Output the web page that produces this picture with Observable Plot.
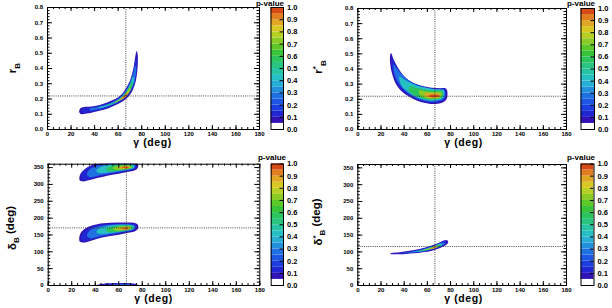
<!DOCTYPE html>
<html>
<head>
<meta charset="utf-8">
<script src="https://cdn.jsdelivr.net/npm/d3@7"></script>
<script src="https://cdn.jsdelivr.net/npm/@observablehq/plot@0.6"></script>
<style>
  body { margin: 0; background: #fff; }
  #fig { position: relative; width: 612px; height: 308px; overflow: hidden; background: #fff;
         font-family: "Liberation Sans", Arial, sans-serif; }
  .panel { position: absolute; width: 306px; height: 154px; }
  .panel svg { position: absolute; left: 0; top: 0; }
</style>
</head>
<body>
<div id="fig"></div>
<script>
// ---- p-value colour bands -------------------------------------------------
const pBands = [0, 0.05, 0.1, 0.15, 0.2, 0.25, 0.3, 0.35, 0.4, 0.45, 0.5,
                0.55, 0.6, 0.65, 0.7, 0.75, 0.8, 0.85, 0.9, 0.95];
const pTicks = [0, 0.1, 0.2, 0.3, 0.4, 0.5, 0.6, 0.7, 0.8, 0.9, 1.0];
const palette = ["#ffffff", "#3312b5", "#2226d0", "#1c3ee0", "#1d56e2", "#1f70e0",
                 "#2290dc", "#25aed6", "#26c0c4", "#27c4a4", "#28c480", "#2ac35c",
                 "#38c43a", "#5cc82a", "#8acc26", "#b8d024", "#d8c824", "#e0a624",
                 "#e07e20", "#d84a18"];

// ---- axes ------------------------------------------------------------------
const gammaTicks = [0, 20, 40, 60, 80, 100, 120, 140, 160, 180];
const rTicks = [0, 0.1, 0.2, 0.3, 0.4, 0.5, 0.6, 0.7, 0.8];
const deltaTicks = [0, 50, 100, 150, 200, 250, 300, 350];

// ---- best-fit point ----------------------------------------------------------
const gammaBest = 66.5;
const rBBest = 0.22;
const rBStarBest = 0.22;
const deltaBBest = 171;
const deltaBStarBest = 116;

// ---- p-value contours: [gamma (deg), parameter] --------------------------------
const rBContours = [
  {p: 0.05, pts: [[27.5,0.135],[30,0.146],[35,0.149],[40,0.154],[45,0.163],[50,0.176],[55,0.191],[60,0.211],[64,0.24],[67,0.275],[70,0.32],[72,0.37],[73.6,0.43],[74.8,0.49],[75.7,0.515],[76.6,0.49],[76.6,0.42],[75.7,0.35],[74,0.29],[71.5,0.245],[68,0.21],[64,0.185],[58,0.16],[52,0.14],[45,0.125],[38,0.112],[32,0.103],[29,0.1],[27,0.112]]},
  {p: 0.12, pts: [[29,0.132],[31,0.141],[36,0.144],[41,0.15],[46,0.159],[51,0.172],[56,0.188],[60.5,0.208],[64.3,0.236],[67.3,0.272],[70.3,0.318],[72.4,0.37],[74,0.43],[75.2,0.475],[75.9,0.46],[75.9,0.41],[75,0.35],[73.4,0.293],[71,0.25],[67.7,0.216],[63.7,0.19],[58,0.165],[52,0.145],[45,0.13],[38,0.117],[32,0.108],[29.5,0.108],[28.5,0.118]]},
  {p: 0.25, pts: [[36,0.138],[41,0.146],[46,0.154],[52,0.169],[58,0.192],[63,0.222],[67,0.262],[70,0.308],[72.5,0.365],[74.6,0.42],[75.3,0.4],[74.7,0.345],[72.9,0.293],[70.2,0.253],[66.5,0.22],[61.5,0.189],[55,0.162],[47,0.141],[39,0.127],[35.5,0.13]]},
  {p: 0.4, pts: [[44,0.147],[49,0.157],[54,0.17],[59,0.19],[63.5,0.218],[67.2,0.255],[70.2,0.298],[72.6,0.345],[73.6,0.33],[72.2,0.288],[69.6,0.251],[66.2,0.22],[61.5,0.192],[55.5,0.167],[48.5,0.148],[44,0.141]]},
  {p: 0.55, pts: [[51,0.16],[55.5,0.172],[60,0.19],[64,0.215],[67.3,0.249],[70.2,0.29],[71.9,0.312],[72.4,0.3],[70.7,0.266],[68.2,0.234],[64.5,0.206],[59.5,0.184],[54,0.165],[50.5,0.156]]},
  {p: 0.7, pts: [[57,0.178],[61,0.196],[64.5,0.219],[67.5,0.247],[70,0.276],[70.8,0.268],[68.5,0.234],[65,0.208],[60.5,0.187],[57,0.174]]},
  {p: 0.85, pts: [[61.5,0.196],[64.5,0.214],[67.3,0.24],[68.8,0.246],[68.4,0.234],[66,0.211],[63,0.196],[61.5,0.193]]},
  {p: 0.95, pts: [[64,0.211],[65.8,0.224],[67.2,0.234],[67.3,0.226],[65.8,0.214],[64.3,0.207]]}
];

const rBStarContours = [
  {p: 0.05, pts: [[28.7,0.505],[30.8,0.464],[34.6,0.409],[38.9,0.36],[44.6,0.321],[53.3,0.292],[61.9,0.277],[70,0.273],[75.5,0.273],[77,0.26],[77,0.21],[75.5,0.19],[72,0.175],[65,0.168],[56,0.178],[47.5,0.204],[39,0.244],[33,0.3],[29.7,0.365],[28,0.43],[27.8,0.485]]},
  {p: 0.12, pts: [[29.5,0.48],[32,0.44],[35.5,0.395],[40,0.35],[46,0.315],[54,0.289],[62,0.274],[70,0.27],[75,0.268],[76,0.255],[76,0.215],[74.5,0.195],[71,0.182],[65,0.175],[56,0.185],[48,0.21],[40,0.248],[34,0.3],[30.5,0.37],[29,0.43]]},
  {p: 0.25, pts: [[31,0.43],[34,0.4],[39,0.355],[46,0.312],[54,0.285],[62,0.271],[70,0.266],[74.5,0.263],[75.3,0.25],[75.2,0.22],[73.5,0.2],[70,0.19],[64,0.183],[56,0.193],[48,0.218],[41,0.255],[35,0.31],[31.5,0.37]]},
  {p: 0.4, pts: [[36,0.35],[41,0.325],[48,0.3],[55,0.283],[63,0.27],[70,0.264],[74,0.26],[74.5,0.235],[73,0.205],[69,0.195],[63,0.19],[56,0.2],[48,0.225],[41,0.262],[37,0.3]]},
  {p: 0.55, pts: [[45,0.285],[52,0.272],[59,0.262],[66,0.258],[72,0.256],[73.5,0.24],[72.5,0.21],[68,0.2],[61,0.198],[54,0.21],[47,0.235],[44,0.26]]},
  {p: 0.7, pts: [[53,0.258],[60,0.25],[67,0.248],[72,0.245],[72.5,0.225],[70,0.207],[64,0.203],[57,0.212],[53,0.235]]},
  {p: 0.85, pts: [[58,0.24],[64,0.238],[70,0.236],[71,0.22],[68,0.21],[62,0.208],[58,0.222]]},
  {p: 0.95, pts: [[62,0.228],[66,0.229],[70,0.227],[70.5,0.218],[66,0.213],[62,0.216]]}
];

const deltaBContours = [
  // solution near delta_B + 180
  {p: 0.05, pts: [[26.5,319],[27.5,332],[30.3,343],[34.6,353],[40,361],[50,367],[65,368],[73,366],[76.2,361],[76.5,352],[74.3,343],[67.2,337],[58.7,331],[50.2,326],[41.7,319],[34.6,312],[29.8,309],[26.9,311.5]]},
  {p: 0.12, pts: [[28,322],[29,335],[31.5,345],[35.5,353],[42,360],[53,364],[64,365],[72,363],[75,358],[75,350],[73,344],[66.5,339],[58.5,334],[50,329],[42,322.5],[35,315],[30.5,312.5],[28.3,315]]},
  {p: 0.25, pts: [[33,329],[35,343],[40,353],[47,359],[55,362],[64,363],[71.5,361.5],[74,357],[73.8,350],[71.5,345.5],[65.5,341],[58,336],[50,331.5],[42,326],[36,321]]},
  {p: 0.4, pts: [[41,341],[44,351],[50,357],[58,360.5],[65,361],[71,359.5],[73,355],[72.5,349],[69,345],[62,341],[54,337],[46,334],[42,335]]},
  {p: 0.55, pts: [[49,347],[53,354],[59,358],[66,359],[71,357],[72,352],[70,347],[64,343],[57,340],[51,340]]},
  {p: 0.7, pts: [[55,349],[59,354.5],[65,356.5],[70,355],[71,351],[68,347],[62,344],[57,344]]},
  {p: 0.85, pts: [[59,350],[63,353.5],[68,353.8],[70,351],[67,347.5],[62,346.5]]},
  {p: 0.95, pts: [[62.5,350.5],[65.5,352.5],[68.5,352],[67.5,349],[64,348.5]]},
  // wrapped part of the same solution just above 0
  {p: 0.05, pts: [[40,-6],[41,1],[45,4.5],[52,6.5],[62,7.5],[70,7],[74,5],[76.5,1],[77,-6]]},
  {p: 0.12, pts: [[45,-6],[47,3],[55,5],[65,5.5],[72,4],[75,0],[75,-6]]},
  {p: 0.25, pts: [[52,-6],[55,2.5],[63,3.5],[70,2.5],[73,-6]]},
  // central solution
  {p: 0.05, pts: [[26.4,140.6],[27.5,155],[30.3,166],[34.6,175],[41.7,182],[53,186],[64.3,187],[72.8,186],[76.2,180],[76.5,170],[74.3,162],[67.2,156],[58.7,150],[50.2,145.5],[41.7,138.6],[34.6,130.8],[29.8,127.8],[26.9,130.8]]},
  {p: 0.12, pts: [[28,142],[29,155],[31.5,164],[35.5,172],[42,179],[53,183],[64,184],[72,183],[75,178],[75,170],[73,164],[66.5,158.5],[58.5,153],[50,148],[42,141.5],[35,134],[30.5,131.5],[28.3,134]]},
  {p: 0.25, pts: [[33,148],[35,162],[40,172],[47,178],[55,181],[64,182],[71.5,180.5],[74,176],[73.8,169],[71.5,164.5],[65.5,160],[58,155],[50,150.5],[42,145],[36,140]]},
  {p: 0.4, pts: [[41,160],[44,170],[50,176],[58,179.5],[65,180],[71,178.5],[73,174],[72.5,168],[69,164],[62,160],[54,156],[46,153],[42,154]]},
  {p: 0.55, pts: [[49,166],[53,173],[59,177],[66,178],[71,176],[72,171],[70,166],[64,162],[57,159],[51,159]]},
  {p: 0.7, pts: [[55,168],[59,173.5],[65,175.5],[70,174],[71,170],[68,166],[62,163],[57,163]]},
  {p: 0.85, pts: [[59,169],[63,172.5],[68,172.8],[70,170],[67,166.5],[62,165.5]]},
  {p: 0.95, pts: [[62.5,169.5],[65.5,171.5],[68.5,171],[67.5,168],[64,167.5]]}
];

const deltaBStarContours = [
  {p: 0.05, pts: [[28.5,96],[36,99],[47.5,105],[59,114],[69.1,126],[74,134],[76.9,135],[78,129],[76.3,121],[72,113],[64.8,104],[54.7,98],[41.8,94],[30.2,93],[28.2,94]]},
  {p: 0.12, pts: [[31,95.5],[40,98],[48,103],[59,112],[68,123],[73.5,131],[76,132],[76.8,127],[75.5,122],[71.5,115],[64.5,106],[54.5,99.5],[42,95.8],[33,94.5]]},
  {p: 0.25, pts: [[38,97],[48,101.5],[59,110.5],[67,120],[72,127],[74.5,128],[75,124],[71,116],[64,107.5],[54.5,100.5],[45,97.5],[40,96.3]]},
  {p: 0.4, pts: [[46,99.5],[54,104],[61,111.5],[67,119],[71.5,124.5],[73,122],[70,116],[63,108.5],[55,102],[48,99.5]]},
  {p: 0.55, pts: [[52,102.5],[59,108],[65,115],[70,121.5],[71.5,120],[68,114],[62,108],[55,103]]},
  {p: 0.7, pts: [[57,105.5],[62,110.5],[67,117],[69.5,118.5],[69,115],[64,109],[59,105.5]]},
  {p: 0.85, pts: [[61,108.5],[65,113],[68.5,117],[68,113],[63.5,108.5]]},
  {p: 0.95, pts: [[64.5,112],[66.5,115],[67.5,115],[66,112]]}
];

// ---- panel layout ------------------------------------------------------------
const colorScale = {type: "threshold", domain: pBands.slice(1), range: palette};
const fontFamily = "'Liberation Sans', Arial, sans-serif";

const panels = [
  {left: 0, top: 0, frame: [47, 259, 7, 129], cb: [270.5, 283, 7, 129],
   yDomain: [0, 0.8], yTicks: rTicks, yMinor: 0.02, yFormat: ".1f",
   contours: rBContours, refY: rBBest,
   yTitle: {x: 16, y: 68, parts: [["r", 0], ["B", 0.45, true]]},
   xTitleX: 152.5, xTitleY: 145.5, pLabelX: 270},
  {left: 306, top: 0, frame: [51.3, 260, 8, 129], cb: [274.5, 288, 8, 129],
   yDomain: [0, 0.8], yTicks: rTicks, yMinor: 0.02, yFormat: ".1f",
   contours: rBStarContours, refY: rBStarBest,
   yTitle: {x: 16, y: 67, parts: [["r", 0], ["*", -0.45, true], ["B", 0.9, true]]},
   xTitleX: 157.5, xTitleY: 145.5, pLabelX: 275},
  {left: 0, top: 154, frame: [47.7, 259.3, 9.7, 131], cb: [270.7, 283, 9.5, 131],
   yDomain: [0, 360], yTicks: deltaTicks, yMinor: 10, yFormat: "d",
   contours: deltaBContours, refY: deltaBBest,
   yTitle: {x: 15.5, y: 74, parts: [["δ", 0], ["B", 0.45, true], [" (deg)", -0.45]]},
   xTitleX: 153.5, xTitleY: 148, pLabelX: 272},
  {left: 306, top: 154, frame: [51.3, 260, 10, 131], cb: [274.5, 287.5, 9.5, 131],
   yDomain: [0, 360], yTicks: deltaTicks, yMinor: 10, yFormat: "d",
   contours: deltaBStarContours, refY: deltaBStarBest,
   yTitle: {x: 15.5, y: 68, parts: [["δ", 0], ["*", -0.45, true], ["B", 0.9, true], [" (deg)", -0.45]]},
   xTitleX: 157.5, xTitleY: 148, pLabelX: 275}
];

const fig = document.getElementById("fig");

for (const cfg of panels) {
  const div = document.createElement("div");
  div.className = "panel";
  div.style.left = cfg.left + "px";
  div.style.top = cfg.top + "px";
  fig.appendChild(div);

  const [fl, fr, ft, fb] = cfg.frame;
  const W = 306, H = 154;
  const innerW = fr - fl, innerH = fb - ft;
  const gammaMinor = d3.range(0, 180.1, 5);
  const yMinor = d3.range(cfg.yDomain[0], cfg.yDomain[1] + cfg.yMinor / 2, cfg.yMinor);

  const contourMarks = cfg.contours.map(c =>
    Plot.line(c.pts, {
      x: d => d[0], y: d => d[1], fill: () => c.p, stroke: "none",
      curve: "catmull-rom-closed", clip: true
    })
  );

  const main = Plot.plot({
    width: W, height: H,
    marginLeft: fl, marginRight: W - fr, marginTop: ft, marginBottom: H - fb,
    style: {background: "transparent", fontFamily, fontSize: "6px", fontWeight: "bold", color: "#000"},
    x: {domain: [0, 180], ticks: gammaTicks, tickSize: 0, tickPadding: 2, label: null, tickFormat: "d"},
    y: {domain: cfg.yDomain, ticks: cfg.yTicks, tickSize: 0, tickPadding: 4.5, label: null, tickFormat: cfg.yFormat},
    color: colorScale,
    marks: [
      ...contourMarks,
      Plot.ruleX([gammaBest], {x: d => d, stroke: "#333", strokeDasharray: "1,1.2", strokeWidth: 0.9}),
      Plot.ruleY([cfg.refY], {y: d => d, stroke: "#333", strokeDasharray: "1,1.2", strokeWidth: 0.9}),
      // inward ticks on all four sides
      Plot.tickX(gammaTicks, {x: d => d, insetTop: innerH - 4, stroke: "#000"}),
      Plot.tickX(gammaTicks, {x: d => d, insetBottom: innerH - 4, stroke: "#000"}),
      Plot.tickX(gammaMinor, {x: d => d, insetTop: innerH - 2, stroke: "#000"}),
      Plot.tickX(gammaMinor, {x: d => d, insetBottom: innerH - 2, stroke: "#000"}),
      Plot.tickY(cfg.yTicks, {y: d => d, insetRight: innerW - 5, stroke: "#000"}),
      Plot.tickY(cfg.yTicks, {y: d => d, insetLeft: innerW - 5, stroke: "#000"}),
      Plot.tickY(yMinor, {y: d => d, insetRight: innerW - 2.5, stroke: "#000"}),
      Plot.tickY(yMinor, {y: d => d, insetLeft: innerW - 2.5, stroke: "#000"}),
      Plot.frame({stroke: "#000"})
    ]
  });
  div.appendChild(main);

  // colour bar
  const [cl, cr, ct, cbt] = cfg.cb;
  const cbar = Plot.plot({
    width: W, height: H,
    marginLeft: cl, marginRight: W - cr, marginTop: ct, marginBottom: H - cbt,
    style: {background: "transparent", fontFamily, fontSize: "7.5px", fontWeight: "bold", color: "#000"},
    x: {axis: null, domain: [0, 1]},
    y: {domain: [0, 1], axis: "right", ticks: pTicks, tickSize: 0, tickPadding: 3.5, tickFormat: ".1f", label: null},
    color: colorScale,
    marks: [
      Plot.barY(pBands, {y1: d => d, y2: d => d + 0.05, fill: d => d, insetTop: 0, insetBottom: 0}),
      Plot.tickY(pTicks, {y: d => d, insetLeft: (cr - cl) - 3.5, stroke: "#000"}),
      Plot.frame({stroke: "#000"})
    ]
  });
  div.appendChild(cbar);

  // titles
  const svg = d3.select(div).append("svg")
    .attr("width", W).attr("height", H)
    .style("font-family", fontFamily).style("font-weight", "bold");

  svg.append("text")
    .attr("x", cfg.xTitleX).attr("y", cfg.xTitleY)
    .attr("text-anchor", "middle")
    .attr("font-size", 10.5)
    .attr("letter-spacing", "0.6px")
    .text("γ (deg)");

  svg.append("text")
    .attr("x", cfg.pLabelX).attr("y", 6)
    .attr("text-anchor", "middle")
    .attr("font-size", 8)
    .text("p-value");

  const yt = svg.append("text")
    .attr("transform", `translate(${cfg.yTitle.x},${cfg.yTitle.y}) rotate(-90)`)
    .attr("text-anchor", "middle")
    .attr("font-size", 11.5);
  for (const [s, dy, small] of cfg.yTitle.parts) {
    yt.append("tspan")
      .attr("dy", dy + "em")
      .attr("font-size", small ? 8 : 11.5)
      .text(s);
  }
}
</script>
</body>
</html>
